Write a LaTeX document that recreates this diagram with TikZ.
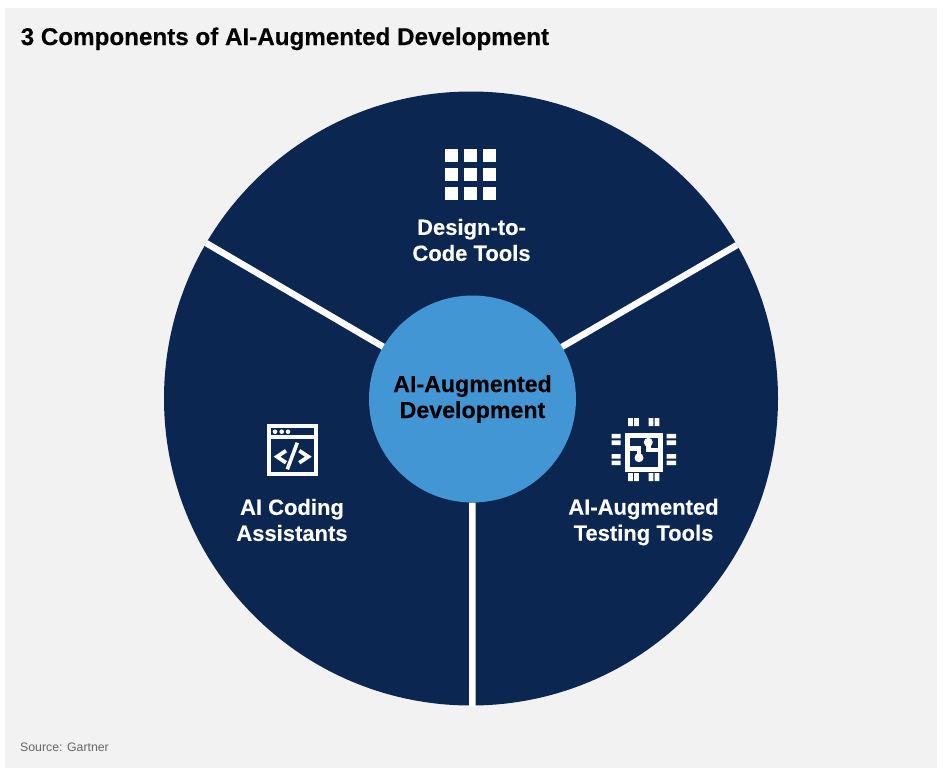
\documentclass[tikz,border=0pt]{standalone}
\usepackage{fontspec}
\setmainfont[BoldFeatures={FakeBold=0.25}]{Liberation Sans}
\definecolor{panelgray}{HTML}{F2F2F2}
\definecolor{discnavy}{HTML}{0B2650}
\definecolor{hubblue}{HTML}{4296D4}
\definecolor{sourcegray}{HTML}{666666}
\begin{document}
\begin{tikzpicture}[x=1pt,y=-1pt,
                       disc node/.style={circle,fill=discnavy,outer sep=0pt,inner sep=0pt,minimum size=614pt},
                       hub node/.style={circle,fill=hubblue,outer sep=0pt,inner sep=0pt,minimum size=207pt,align=center,font=\fontsize{23.2}{26}\selectfont\bfseries,text=black},
                       part node/.style={align=center,text=white,inner sep=0pt,font=\fontsize{22}{26}\selectfont\bfseries},
                       spoke/.style={white,line width=6.5pt},
                       grid cell/.style={fill=white,minimum size=13pt,inner sep=0pt,outer sep=0pt}
                      ]
  \useasboundingbox (0,0) rectangle (946,772);
  \fill[panelgray] (5,8) rectangle (937,767.5);

  \node[anchor=base west,inner sep=0pt,font=\fontsize{24.2}{28}\selectfont\bfseries] (title) at (20.5,45) {3 Components of AI-Augmented Development};
  \node[anchor=base west,inner sep=0pt,text=sourcegray,font=\fontsize{12.3}{14}\selectfont] (source) at (20,751) {Source: Gartner};

  \node[disc node] (disc) at (471,398.5) {};
  \node[hub node] (hub) at (472.5,399) {AI-Augmented\\Development};

  \coordinate (rimleft) at (206,243);
  \coordinate (rimright) at (737,245);
  \coordinate (rimbottom) at (472.3,706.5);
  \path[spoke]%
   (hub) edge (rimleft)
   (hub) edge (rimright)
   (hub) edge (rimbottom);

  \node[part node] (design) at (471.5,240) {Design-to-\\Code Tools};
  \node[part node] (coding) at (292,520) {AI Coding\\Assistants};
  \node[part node] (testing) at (643.5,522) {AI-Augmented\\Testing Tools};

  % grid icon
  \node[grid cell] (g1) at (451.5,155.5) {};
  \node[grid cell] (g2) at (470.5,155.5) {};
  \node[grid cell] (g3) at (489.5,155.5) {};
  \node[grid cell] (g4) at (451.5,174.5) {};
  \node[grid cell] (g5) at (470.5,174.5) {};
  \node[grid cell] (g6) at (489.5,174.5) {};
  \node[grid cell] (g7) at (451.5,193.5) {};
  \node[grid cell] (g8) at (470.5,193.5) {};
  \node[grid cell] (g9) at (489.5,193.5) {};

  % code icon
  \draw[white,line width=4.4pt] (269.2,426.2) rectangle (315.8,473.8);
  \draw[white,line width=4pt] (269,437) -- (316,437);
  \fill[white] (275,431.7) circle (2.3) (281.7,431.7) circle (2.3) (288,431.7) circle (2.3);
  \draw[white,line width=3.8pt] (286,450.7) -- (277,456.7) -- (286,462.7);
  \draw[white,line width=3.8pt] (299.3,450.7) -- (308.3,456.7) -- (299.3,462.7);
  \draw[white,line width=3.6pt] (297.3,442.7) -- (287.3,469.3);

  % chip icon
  \draw[white,line width=5pt] (627.5,435.5) rectangle (660.5,469.5);
  \fill[white] (648.3,442.3) circle (4.5) (639,457.7) circle (4.5);
  \draw[white,line width=4.5pt] (648.3,442.3) -- (648.3,450) -- (661,450);
  \draw[white,line width=4.5pt] (639,457.7) -- (639,448.5) -- (627,448.5);
  \fill[white] (628,418) rectangle (632.8,426) (634,418) rectangle (638.8,426)
               (648.6,418) rectangle (653.4,426) (654.6,418) rectangle (659.4,426);
  \fill[white] (628,473) rectangle (632.8,481) (634,473) rectangle (638.8,481)
               (648.6,473) rectangle (653.4,481) (654.6,473) rectangle (659.4,481);
  \fill[white] (611.7,433.8) rectangle (620.7,438.4) (611.7,440.4) rectangle (620.7,445)
               (611.7,454) rectangle (620.7,458.6) (611.7,460.6) rectangle (620.7,465.2);
  \fill[white] (666.7,433.8) rectangle (676,438.4) (666.7,440.4) rectangle (676,445)
               (666.7,454) rectangle (676,458.6) (666.7,460.6) rectangle (676,465.2);
\end{tikzpicture}
\end{document}
